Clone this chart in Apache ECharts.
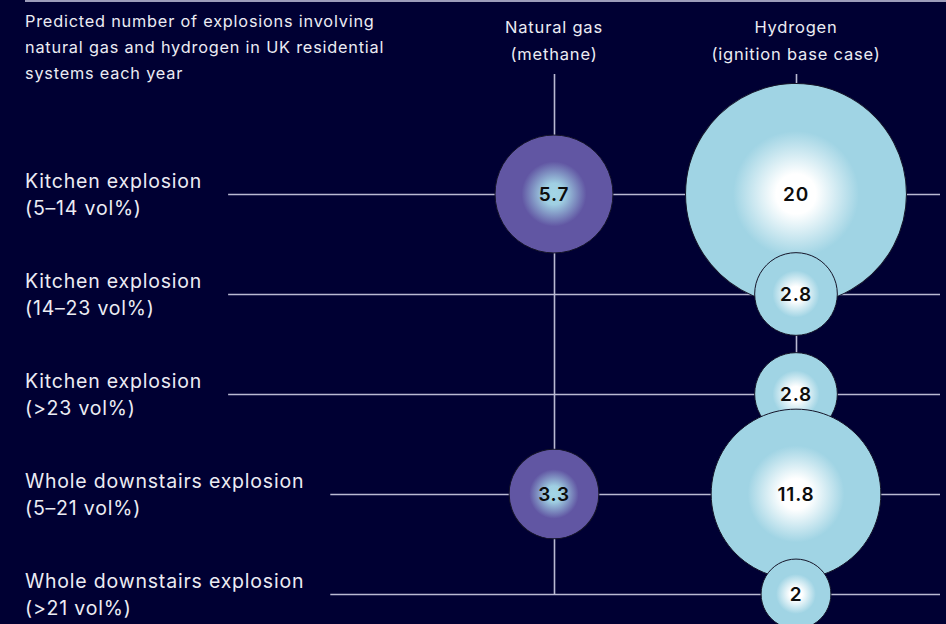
<!DOCTYPE html>
<html>
<head>
<meta charset="utf-8">
<style>
  html, body { margin: 0; padding: 0; background: #000033; }
  #chart { width: 946px; height: 624px; }
  /* the typeface is set a little open */
  #chart svg text { letter-spacing: 0.8px; }
</style>
<script src="https://cdn.jsdelivr.net/npm/echarts@6/dist/echarts.min.js"></script>
</head>
<body>
<div id="chart"></div>
<script>
// Explosion scenarios (rows) and fuel columns
const scenarioNames = [
  'Kitchen explosion',
  'Kitchen explosion',
  'Kitchen explosion',
  'Whole downstairs explosion',
  'Whole downstairs explosion'
];
const scenarioRanges = ['(5–14 vol%)', '(14–23 vol%)', '(>23 vol%)', '(5–21 vol%)', '(>21 vol%)'];
const fuelColumns = ['Natural gas\n(methane)', 'Hydrogen\n(ignition base case)'];

// Predicted explosions per year (null = not shown)
const naturalGasValues = [5.7, null, null, 3.3, null];
const hydrogenValues = [20, 2.8, 2.8, 11.8, 2];

const titleText = 'Predicted number of explosions involving\nnatural gas and hydrogen in UK residential\nsystems each year';

const FONT = 'Inter, "Open Sans", sans-serif';
const TEXT = '#ececf3';
const RULE = '#b9b9d2';
const LABEL_X = 25;
const LABEL_SIZE = 19.5;
const TRACKING = 0.8;

// bubble area is proportional to the value
const sizeFor = v => 49.4 * Math.sqrt(v);

// width of the widest line of each row label, to start the row rule after it
const measureCtx = document.createElement('canvas').getContext('2d');
measureCtx.font = LABEL_SIZE + 'px ' + FONT;
const textWidth = s => measureCtx.measureText(s).width + s.length * TRACKING;
const labelWidths = scenarioNames.map((n, i) => Math.max(textWidth(n), textWidth(scenarioRanges[i])));

const rowLabels = scenarioNames.map((n, i) => n + '\n' + scenarioRanges[i]);

function bubbleData(values, col) {
  const out = [];
  values.forEach((v, row) => { if (v != null) out.push([col, row, v]); });
  return out;
}

const gasFill = {
  type: 'radial', x: 0.5, y: 0.5, r: 0.5,
  colorStops: [
    { offset: 0, color: '#a3d6e6' },
    { offset: 0.18, color: '#9fcfe2' },
    { offset: 0.55, color: '#6156a3' },
    { offset: 1, color: '#6156a3' }
  ]
};
const hydrogenFill = {
  type: 'radial', x: 0.5, y: 0.5, r: 0.5,
  colorStops: [
    { offset: 0, color: '#ffffff' },
    { offset: 0.18, color: '#ffffff' },
    { offset: 0.57, color: '#a0d4e4' },
    { offset: 1, color: '#a0d4e4' }
  ]
};

function bubbleSeries(name, values, col, fill) {
  return {
    name: name,
    type: 'scatter',
    data: bubbleData(values, col),
    symbol: 'circle',
    symbolSize: val => sizeFor(val[2]),
    z: 5,
    silent: true,
    itemStyle: { color: fill, borderColor: '#141428', borderWidth: 1, opacity: 1 },
    label: {
      show: true, position: 'inside',
      formatter: p => String(p.value[2]),
      color: '#0d0d0d', fontFamily: FONT, fontSize: 19, fontWeight: 600
    }
  };
}

const chart = echarts.init(document.getElementById('chart'), null, { renderer: 'svg' });
chart.setOption({
  backgroundColor: '#000033',
  animation: false,
  title: {
    text: titleText,
    left: LABEL_X, top: 8, padding: 0,
    textStyle: { color: TEXT, fontFamily: FONT, fontSize: 16.3, fontWeight: 'normal', lineHeight: 26 }
  },
  graphic: [{
    type: 'line',
    shape: { x1: LABEL_X, y1: 1, x2: 946, y2: 1 },
    style: { stroke: '#9c9cba', lineWidth: 2 },
    silent: true
  }],
  grid: { left: 433, right: 29, top: 194, bottom: 30 },
  xAxis: {
    type: 'category',
    data: fuelColumns,
    position: 'top',
    boundaryGap: true,
    axisLine: { show: false },
    axisTick: { show: false },
    splitLine: { show: false },
    axisLabel: {
      color: TEXT, fontFamily: FONT, fontSize: 16.5, lineHeight: 27, margin: 127, interval: 0
    }
  },
  yAxis: {
    type: 'category',
    data: rowLabels,
    inverse: true,
    boundaryGap: false,
    axisLine: { show: false },
    axisTick: { show: false },
    splitLine: { show: false },
    axisLabel: {
      color: TEXT, fontFamily: FONT, fontSize: LABEL_SIZE, lineHeight: 27,
      align: 'left', margin: 433 - LABEL_X, interval: 0
    }
  },
  series: [
    {
      // horizontal rule for each scenario row
      type: 'custom',
      clip: false,
      silent: true,
      z: 1,
      data: rowLabels.map((_, i) => [0, i]),
      renderItem: (params, api) => {
        const row = api.value(1);
        const y = Math.round(api.coord([0, row])[1]) + 0.5;
        return {
          type: 'line',
          shape: { x1: LABEL_X + labelWidths[row] + 26, y1: y, x2: api.getWidth() - 6, y2: y },
          style: { stroke: RULE, lineWidth: 1.6 }
        };
      }
    },
    {
      // vertical guide for each fuel column
      type: 'custom',
      clip: false,
      silent: true,
      z: 1,
      data: fuelColumns.map((_, i) => [i, 0]),
      renderItem: (params, api) => {
        const col = api.value(0);
        const top = api.coord([col, 0]);
        const bottom = api.coord([col, rowLabels.length - 1]);
        const x = Math.round(top[0]) + 0.5;
        return {
          type: 'line',
          shape: { x1: x, y1: top[1] - 120, x2: x, y2: bottom[1] },
          style: { stroke: RULE, lineWidth: 1.6 }
        };
      }
    },
    bubbleSeries('Natural gas', naturalGasValues, 0, gasFill),
    bubbleSeries('Hydrogen', hydrogenValues, 1, hydrogenFill)
  ]
});
</script>
</body>
</html>
